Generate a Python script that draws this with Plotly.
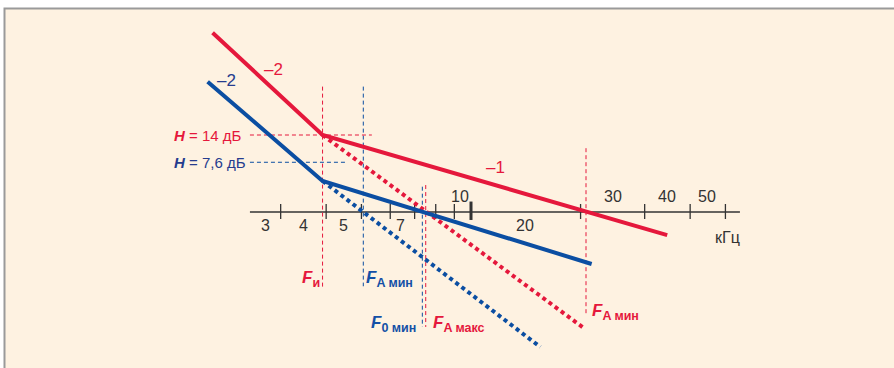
import numpy as np
import plotly.graph_objects as go

# ---- data (frequency in kHz, level in dB, schematic) ----
red_f = [1.95, 3.91, 34.6]
red_L = [32.6, 14.0, -4.2]
blue_f = [1.89, 3.91, 21.45]
blue_L = [23.7, 5.64, -9.45]
red_dot_f = [3.91, 20.6]
red_dot_L = [14.0, -21.3]
blue_dot_f = [3.91, 15.5]
blue_dot_L = [5.64, -24.55]

axis_f = [2.47, 54.8]
tick_vals = [3, 4, 5, 6, 7, 8, 9, 20, 30, 40, 50]
major_tick = 10
below_labels = ["3", "4", "5", "7", "20"]
below_label_f = [2.73, 3.455, 4.45, 6.42, 14.07]
above_labels = ["10", "30", "40", "50"]
above_label_f = [9.33, 24.55, 34.55, 44.5]

# vertical marker lines: Fи, FA мин (blue), Fо мин, FA макс, FA мин (red)
mark_f = [3.91, 5.06, 7.35, 7.51, 20.7]
mark_top = [22.8, 22.8, 4.6, 4.9, 11.6]
mark_bot = [-13.6, -13.5, -20.9, -20.9, -18.5]

# horizontal H lines
h_levels = [14.0, 9.04]
h_f_start = [2.47, 2.47]
h_f_end = [5.34, 4.51]

RED = "#E5183C"
BLUE = "#0B4EA2"
NAVY = "#263C8E"
FBLUE = "#1450A6"
GREY = "#333333"
FONT = "Liberation Sans, Arial, sans-serif"

fig = go.Figure()

# frame
fig.add_shape(type="rect", xref="paper", yref="paper",
              x0=4.5 / 894, x1=1.02, y0=-0.02, y1=1 - 8.5 / 368,
              fillcolor="#FEF2E1", line=dict(color="#9A9A9A", width=2), layer="below")

def seg(x, y, color, width, dash="solid"):
    fig.add_trace(go.Scatter(x=x, y=y, mode="lines", hoverinfo="skip",
                             line=dict(color=color, width=width, dash=dash)))

# axis
seg(axis_f, [0, 0], GREY, 1.6)
tx, ty = [], []
for t in tick_vals:
    tx += [t, t, None]
    ty += [1.45, -1.27, None]
seg(tx, ty, GREY, 1.3)
seg([major_tick, major_tick], [1.9, -1.45], GREY, 3)

# marker lines
mark_col = [RED, BLUE, BLUE, RED, RED]
for f, t, b, c in zip(mark_f, mark_top, mark_bot, mark_col):
    seg([f, f], [t, b], c, 1, "4px,3px")
for L, f0, f1, c in zip(h_levels, h_f_start, h_f_end, [RED, BLUE]):
    seg([f0, f1], [L, L], c, 1, "4px,3px")

# curves
seg(red_dot_f, red_dot_L, RED, 4, "4px,3.6px")
seg(blue_dot_f, blue_dot_L, BLUE, 4, "4px,3.6px")
seg(red_f, red_L, RED, 4)
seg(blue_f, blue_L, BLUE, 4)

ann = []
def A(f, L, text, color, size=16, xanchor="center", yanchor="middle", xshift=0):
    ann.append(dict(x=np.log10(f), y=L, xref="x", yref="y", text=text, showarrow=False,
                    font=dict(family=FONT, size=size, color=color),
                    xanchor=xanchor, yanchor=yanchor, xshift=xshift))

for lab, f in zip(below_labels, below_label_f):
    A(f, -2.4, lab, GREY)
for lab, f in zip(above_labels, above_label_f):
    A(f, 2.75, lab, GREY)
A(50.5, -4.6, "кГц", GREY)

A(1.509, 14.0, "<b><i>H</i></b> = 14 дБ", RED, size=15, xanchor="left")
A(1.509, 9.04, "<b><i>H</i></b> = 7,6 дБ", NAVY, size=15, xanchor="left")
A(2.863, 25.95, "–2", RED, size=17)
A(2.132, 24.0, "–2", NAVY, size=17)
A(11.69, 8.13, "–1", RED, size=17)

def flab(sub):
    return "<b><i>F</i><sub><span style='font-size:12.5px'>" + sub + "</span></sub></b>"

A(mark_f[0], -12.2, flab("и"), RED, size=17, xanchor="right", xshift=-1)
A(mark_f[1], -12.2, flab("A мин"), FBLUE, size=17, xanchor="left", xshift=1)
A(mark_f[2], -20.3, flab("0 мин"), FBLUE, size=17, xanchor="right", xshift=-4)
A(mark_f[3], -20.3, flab("A макс"), RED, size=17, xanchor="left", xshift=5)
A(mark_f[4], -18.2, flab("A мин"), RED, size=17, xanchor="left", xshift=4)

fig.update_layout(
    width=894, height=368, margin=dict(l=0, r=0, t=0, b=0),
    paper_bgcolor="white", plot_bgcolor="rgba(0,0,0,0)",
    showlegend=False, annotations=ann,
    xaxis=dict(type="log", range=[-0.29396, 2.16209], visible=False, fixedrange=True),
    yaxis=dict(range=[-28.364, 38.545], visible=False, fixedrange=True),
)
fig.write_html("out.html", config={"displayModeBar": False},
               post_script="document.body.style.margin='0px';document.body.style.overflow='hidden';")
